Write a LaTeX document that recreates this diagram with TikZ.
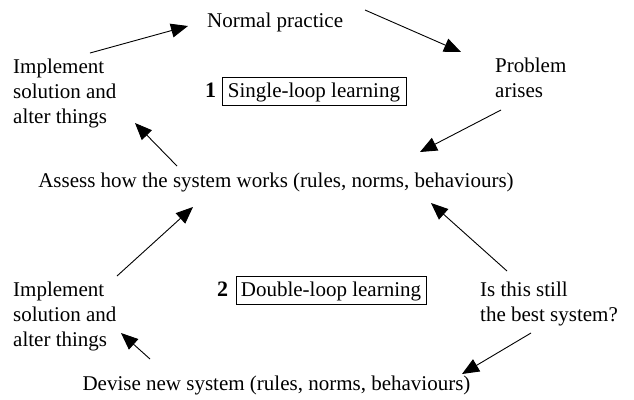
\documentclass[tikz,border=0pt]{standalone}
\usepackage{fontspec}
\setmainfont{Liberation Serif}
\usetikzlibrary{arrows.meta}
\begin{document}
\begin{tikzpicture}[x=1bp,y=-1bp,
  txt/.style={inner sep=0pt, font=\fontsize{21bp}{25bp}\selectfont},
  multi/.style={txt, align=left},
  loopbox/.style={txt, draw, line width=0.8bp, inner sep=0pt,
    text height=20bp, text depth=8.5bp, minimum width=#1},
  num/.style={txt, font=\fontsize{22bp}{25bp}\selectfont\bfseries},
  arr/.style={line width=0.9bp, -{Triangle[length=17bp,width=14bp]}}]
\useasboundingbox (0,0) rectangle (634,399);

% single-loop part (multi-line nodes are placed by the baseline of their last line)
\node[txt, anchor=base west] (normal) at (207,27) {Normal practice};
\node[multi, anchor=base west] (problem) at (495,97) {Problem\\arises};
\node[multi, anchor=base west] (impl1) at (13,123) {Implement\\solution and\\alter things};
\node[txt, anchor=base] (assess) at (276,187) {Assess how the system works (rules, norms, behaviours)};
\node[num, anchor=base west] (n1) at (205,97) {1};
\node[loopbox=184bp, anchor=base] (loop1) at (314,97) {Single-loop learning};

% double-loop part
\node[multi, anchor=base west] (impl2) at (13,346) {Implement\\solution and\\alter things};
\node[multi, anchor=base west] (best) at (480,321) {Is this still\\the best system?};
\node[txt, anchor=base] (devise) at (276.5,390) {Devise new system (rules, norms, behaviours)};
\node[num, anchor=base west] (n2) at (217,296) {2};
\node[loopbox=190bp, anchor=base] (loop2) at (331,296) {Double-loop learning};

% single loop
\draw[arr] ([shift={(77,-70)}]impl1.base west) -- ([shift={(-19,-1)}]normal.base west);
\draw[arr] ([shift={(158,-17)}]normal.base west) -- ([shift={(-34,-45)}]problem.base west);
\draw[arr] ([shift={(6,13)}]problem.base west) -- ([shift={(144,-35)}]assess.base);
\draw[arr] ([shift={(-99,-21)}]assess.base) -- ([shift={(122,0)}]impl1.base west);

% double loop
\draw[arr] ([shift={(104,-70)}]impl2.base west) -- ([shift={(-83,20)}]assess.base);
\draw[arr] ([shift={(-126.5,-31)}]devise.base) -- ([shift={(108,-13)}]impl2.base west);
\draw[arr] ([shift={(27,-50)}]best.base west) -- ([shift={(155,16)}]assess.base);
\draw[arr] ([shift={(51,12)}]best.base west) -- ([shift={(185.5,-16)}]devise.base);
\end{tikzpicture}
\end{document}
